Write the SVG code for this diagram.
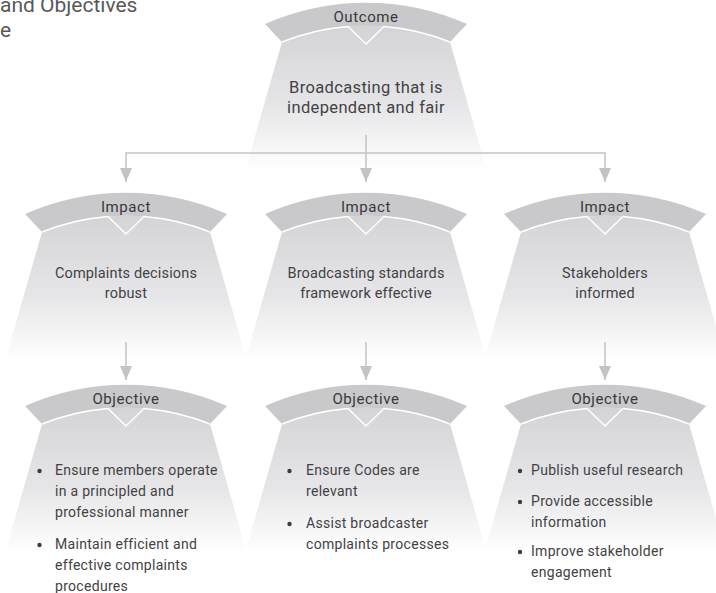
<svg xmlns="http://www.w3.org/2000/svg" xmlns:xlink="http://www.w3.org/1999/xlink" width="716" height="593" viewBox="0 0 716 593">
  <defs>
    <style>
      text { font-family: Roboto, "Liberation Sans", sans-serif; fill: #424244; }
      .head { font-size: 15px; letter-spacing: 0.6px; text-anchor: middle; fill: #38383a; }
      .title { font-size: 16.5px; letter-spacing: 0.35px; text-anchor: middle; }
      .sub { font-size: 14.5px; letter-spacing: 0.15px; text-anchor: middle; }
      .item { font-size: 14px; letter-spacing: 0.3px; }
      .caption { font-size: 21px; fill: #58585a; }
      .dot { fill: #3c3c3e; }
      .link { fill: none; stroke: #c2c3c7; stroke-width: 1.5; marker-end: url(#arrow); }
    </style>
    <linearGradient id="fade" x1="0" y1="0" x2="0" y2="1">
      <stop offset="0" stop-color="#d4d4d6"/>
      <stop offset="0.55" stop-color="#e6e6e8"/>
      <stop offset="1" stop-color="#ffffff"/>
    </linearGradient>
    <marker id="arrow" viewBox="0 0 14 12" refX="14" refY="6" markerWidth="14" markerHeight="12" markerUnits="userSpaceOnUse" orient="auto">
      <path d="M0,0 L14,6 L0,12 Z" fill="#c2c3c7"/>
    </marker>
    <!-- one card: curved header band over a flared body, origin at the top centre of the band -->
    <g id="card">
      <path d="M-84,39 A226,226 0 0 1 84,39 L121,168 L-121,168 Z" fill="url(#fade)"/>
      <path d="M-101,21 A250,250 0 0 1 101,21 L84,39 A226,226 0 0 0 -84,39 Z" fill="#c9c9cb"/>
      <path d="M-84,39 A226,226 0 0 1 -18,23.5 L0,41 L18,23.5 A226,226 0 0 1 84,39" fill="none" stroke="#ffffff" stroke-width="1.5"/>
    </g>
  </defs>

  <rect width="716" height="593" fill="#ffffff"/>

  <text class="caption" x="0" y="12">and Objectives</text>
  <text class="caption" x="0" y="37">e</text>

  <g id="outcome">
    <use xlink:href="#card" transform="translate(366,3)"/>
    <text class="head" x="366" y="22">Outcome</text>
    <text class="title" x="366" y="93">Broadcasting that is</text>
    <text class="title" x="366" y="113">independent and fair</text>
  </g>

  <g id="impact-complaints">
    <use xlink:href="#card" transform="translate(126,193)"/>
    <text class="head" x="126" y="212">Impact</text>
    <text class="sub" x="126" y="278">Complaints decisions</text>
    <text class="sub" x="126" y="298">robust</text>
  </g>

  <g id="impact-standards">
    <use xlink:href="#card" transform="translate(366,193)"/>
    <text class="head" x="366" y="212">Impact</text>
    <text class="sub" x="366" y="278">Broadcasting standards</text>
    <text class="sub" x="366" y="298">framework effective</text>
  </g>

  <g id="impact-stakeholders">
    <use xlink:href="#card" transform="translate(605,193)"/>
    <text class="head" x="605" y="212">Impact</text>
    <text class="sub" x="605" y="278">Stakeholders</text>
    <text class="sub" x="605" y="298">informed</text>
  </g>

  <g id="objective-complaints">
    <use xlink:href="#card" transform="translate(126,385)"/>
    <text class="head" x="126" y="404">Objective</text>
    <circle class="dot" cx="39.5" cy="471" r="2.2"/>
    <text class="item" x="55" y="475">Ensure members operate</text>
    <text class="item" x="55" y="496">in a principled and</text>
    <text class="item" x="55" y="517">professional manner</text>
    <circle class="dot" cx="39.5" cy="545" r="2.2"/>
    <text class="item" x="55" y="549">Maintain efficient and</text>
    <text class="item" x="55" y="570">effective complaints</text>
    <text class="item" x="55" y="591">procedures</text>
  </g>

  <g id="objective-standards">
    <use xlink:href="#card" transform="translate(366,385)"/>
    <text class="head" x="366" y="404">Objective</text>
    <circle class="dot" cx="289.5" cy="471" r="2.2"/>
    <text class="item" x="306" y="475">Ensure Codes are</text>
    <text class="item" x="306" y="496">relevant</text>
    <circle class="dot" cx="289.5" cy="524" r="2.2"/>
    <text class="item" x="306" y="528">Assist broadcaster</text>
    <text class="item" x="306" y="549">complaints processes</text>
  </g>

  <g id="objective-stakeholders">
    <use xlink:href="#card" transform="translate(605,385)"/>
    <text class="head" x="605" y="404">Objective</text>
    <circle class="dot" cx="520" cy="471" r="2.2"/>
    <text class="item" x="531" y="475">Publish useful research</text>
    <circle class="dot" cx="520" cy="502" r="2.2"/>
    <text class="item" x="531" y="506">Provide accessible</text>
    <text class="item" x="531" y="527">information</text>
    <circle class="dot" cx="520" cy="552" r="2.2"/>
    <text class="item" x="531" y="556">Improve stakeholder</text>
    <text class="item" x="531" y="577">engagement</text>
  </g>

  <g id="connectors">
    <path class="link" d="M366,135 V182"/>
    <path class="link" d="M366,153 H126 V182"/>
    <path class="link" d="M366,153 H605 V182"/>
    <path class="link" d="M126,342 V380"/>
    <path class="link" d="M366,342 V380"/>
    <path class="link" d="M605,342 V380"/>
  </g>
</svg>
